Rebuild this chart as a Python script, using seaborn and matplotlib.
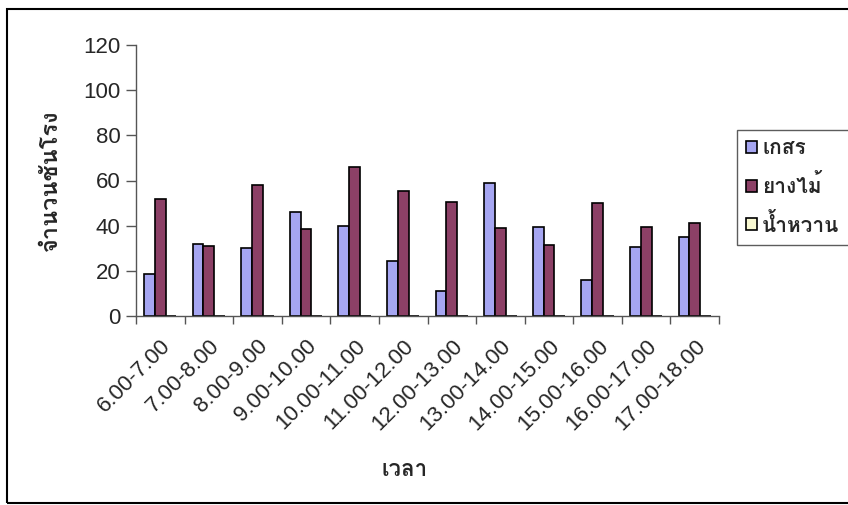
import matplotlib
matplotlib.use("Agg")
import matplotlib.pyplot as plt
from matplotlib import font_manager
from matplotlib.ft2font import FT2Font
from matplotlib.patches import Rectangle
import numpy as np
import pandas as pd
import seaborn as sns

time_slots = ["6.00-7.00", "7.00-8.00", "8.00-9.00", "9.00-10.00", "10.00-11.00",
              "11.00-12.00", "12.00-13.00", "13.00-14.00", "14.00-15.00",
              "15.00-16.00", "16.00-17.00", "17.00-18.00"]
pollen = [18.5, 32, 30, 46, 40, 24.5, 11, 59, 39.5, 16, 30.5, 35]
resin = [52, 31, 58, 38.5, 66, 55.5, 50.5, 39, 31.5, 50, 39.5, 41]
nectar = [0] * 12
series_names = ["เกสร", "ยางไม้", "น้ำหวาน"]
series_colors = ["#9999FF", "#993366", "#FFFFCC"]


def find_thai_family():
    for f in font_manager.fontManager.ttflist:
        try:
            if 0x0E01 in FT2Font(f.fname).get_charmap():
                return f.name
        except Exception:
            continue
    return None


df = pd.DataFrame({
    "time": time_slots * 3,
    "value": pollen + resin + nectar,
    "kind": [series_names[0]] * 12 + [series_names[1]] * 12 + [series_names[2]] * 12,
})

sns.set_style("white")
thai = find_thai_family()
families = ([thai] if thai else []) + ["Liberation Sans", "DejaVu Sans"]
plt.rcParams["font.family"] = families
latin = ["Liberation Sans", "DejaVu Sans"]

fig = plt.figure(figsize=(8.48, 5.05), dpi=100)
ax = fig.add_axes([136 / 848, 1 - 316 / 505, (719 - 136) / 848, (316 - 45) / 505])

sns.barplot(data=df, x="time", y="value", hue="kind", palette=series_colors,
            width=2 / 3, edgecolor="black", linewidth=1.2, ax=ax,
            legend=True, dodge=True)

ax.set_ylim(0, 120)
ax.set_yticks(np.arange(0, 121, 20))
ax.set_xlim(-0.5, len(time_slots) - 0.5)
ax.set_xticks(np.arange(len(time_slots) + 1) - 0.5, minor=True)
ax.set_xticks(np.arange(len(time_slots)))
ax.set_xticklabels(time_slots, rotation=45, ha="right", rotation_mode="anchor",
                   fontsize=16, family=latin)
ax.tick_params(axis="x", which="major", bottom=False, length=0, pad=14)
ax.tick_params(axis="x", which="minor", bottom=True, length=6, width=1,
               color="#555555", direction="out")
ax.tick_params(axis="y", left=True, length=7, width=1, color="#555555",
               direction="out", labelsize=16, pad=4)
for lbl in ax.get_yticklabels():
    lbl.set_family(latin)

for side in ["top", "right"]:
    ax.spines[side].set_visible(False)
for side in ["left", "bottom"]:
    ax.spines[side].set_color("#555555")
    ax.spines[side].set_linewidth(1.0)

ax.set_xlabel("เวลา", fontsize=16, fontweight="bold")
ax.set_ylabel("จำนวนชันโรง", fontsize=17, fontweight="bold")
ax.xaxis.set_label_coords((405 - 136) / (719 - 136), -(470 - 316) / (316 - 45))
ax.yaxis.set_label_coords(-(136 - 50) / (719 - 136), (316 - 180) / (316 - 45))
ax.xaxis.label.set_va("center")
ax.yaxis.label.set_va("center")

handles, labels = ax.get_legend_handles_labels()
ax.legend_.remove()
leg = fig.legend(handles, labels, loc="upper left", bbox_to_anchor=(737 / 848, 1 - 130 / 505),
                 frameon=True, fancybox=False, edgecolor="#333333", fontsize=15,
                 handlelength=0.5, handleheight=0.5, handletextpad=0.25,
                 labelspacing=0.75, borderpad=0.45, borderaxespad=0)
leg.get_frame().set_linewidth(1.0)
for t in leg.get_texts():
    t.set_fontweight("bold")

fig.patches.append(Rectangle((7 / 848, 1 - 503 / 505), 1.0, (503 - 9) / 505,
                             transform=fig.transFigure, fill=False,
                             edgecolor="black", linewidth=1.5))

fig.savefig("out.png", dpi=100)
